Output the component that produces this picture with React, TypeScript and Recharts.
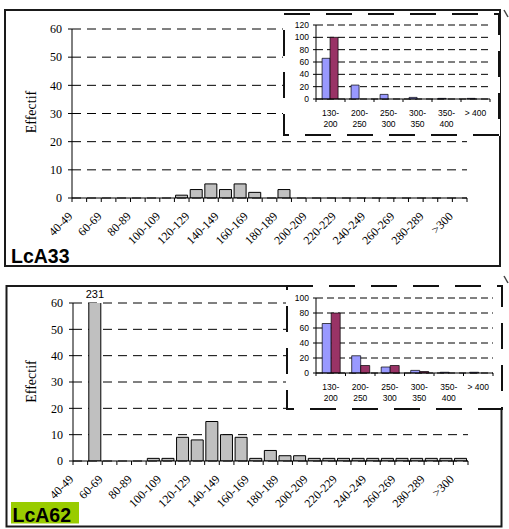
import React from 'react';
import { BarChart, Bar, XAxis, YAxis, CartesianGrid, ReferenceDot } from 'recharts';

const sizeClasses = [
  '40-49', '50-59', '60-69', '70-79', '80-89', '90-99', '100-109', '110-119', '120-129',
  '130-139', '140-149', '150-159', '160-169', '170-179', '180-189', '190-199', '200-209',
  '210-219', '220-229', '230-239', '240-249', '250-259', '260-269', '270-279', '280-289',
  '290-299', '>300',
];
const lca33Counts = [0, 0, 0, 0, 0, 0, 0, 1, 3, 5, 3, 5, 2, 0, 3, 0, 0, 0, 0, 0, 0, 0, 0, 0, 0, 0, 0];
const lca62Counts = [0, 231, 0, 0, 0, 1, 1, 9, 8, 15, 10, 9, 1, 4, 2, 2, 1, 1, 1, 1, 1, 1, 1, 1, 1, 1, 1];
const mainTicks = [0, 10, 20, 30, 40, 50, 60];

const insetClasses = ['130-200', '200-250', '250-300', '300-350', '350-400', '> 400'];
const lca33InsetA = [66, 22.6, 7.5, 2.6, 1, 1];
const lca33InsetB = [100, 0, 0, 0, 0, 0];
const lca62InsetA = [66, 23, 8, 3.5, 1, 1];
const lca62InsetB = [80, 10, 10, 2, 0, 0];
const inset33Ticks = [0, 20, 40, 60, 80, 100, 120];
const inset62Ticks = [0, 20, 40, 60, 80, 100];

const SERIF = '"Liberation Serif", "Times New Roman", serif';
const SANS = '"Liberation Sans", Arial, sans-serif';

function MainTick(props: any) {
  const { x, y, payload, index, bw, count } = props;
  const ax = x - 6;
  const ay = y + 19;
  const left = x - bw / 2;
  return (
    <g>
      <line x1={left} y1={y} x2={left} y2={y + 4} stroke="#000" strokeWidth={1} />
      {index === count - 1 && (
        <line x1={x + bw / 2} y1={y} x2={x + bw / 2} y2={y + 4} stroke="#000" strokeWidth={1} />
      )}
      {index % 2 === 0 && (
        <text
          x={ax}
          y={ay}
          transform={`rotate(-45 ${ax} ${ay})`}
          textAnchor="end"
          fontFamily={SERIF}
          fontSize={12}
          fill="#000"
        >
          {payload.value}
        </text>
      )}
    </g>
  );
}

function InsetTick(props: any) {
  const { x, y, payload, index, bw, count } = props;
  const v = String(payload.value);
  const dash = v.indexOf('-');
  const lines = dash >= 0 ? [v.slice(0, dash + 1), v.slice(dash + 1)] : [v];
  return (
    <g>
      <line x1={x - bw / 2} y1={y} x2={x - bw / 2} y2={y + 3} stroke="#000" strokeWidth={1} />
      {index === count - 1 && (
        <line x1={x + bw / 2} y1={y} x2={x + bw / 2} y2={y + 3} stroke="#000" strokeWidth={1} />
      )}
      <text x={x} y={y + 17} textAnchor="middle" fontFamily={SANS} fontSize={8.5} fill="#000">
        {lines.map((l, i) => (
          <tspan key={i} x={x} dy={i === 0 ? 0 : 10.5}>
            {l}
          </tspan>
        ))}
      </text>
    </g>
  );
}

function MainHistogram(props: {
  counts: number[];
  top: number;
  height: number;
  marginTop: number;
  marginRight: number;
  yAxisWidth: number;
}) {
  const { counts, top, height, marginTop, marginRight, yAxisWidth } = props;
  const data = sizeClasses.map((c, i) => ({ cls: c, n: counts[i] }));
  const W = 509;
  const plotW = W - yAxisWidth - marginRight;
  const bw = plotW / sizeClasses.length;
  const yMax = mainTicks[mainTicks.length - 1];
  const overflow = data.filter((d) => d.n > yMax);
  return (
    <div style={{ position: 'absolute', left: 0, top, width: W, height }}>
      <BarChart
        width={W}
        height={height}
        data={data}
        margin={{ top: marginTop, right: marginRight, bottom: 0, left: 0 }}
        barCategoryGap="8%"
      >
        <CartesianGrid vertical={false} stroke="#000" strokeDasharray="9 6" />
        <XAxis
          dataKey="cls"
          interval={0}
          height={68}
          tickSize={0}
          tickMargin={0}
          tickLine={false}
          axisLine={{ stroke: '#000' }}
          tick={(p: any) => <MainTick {...p} bw={bw} count={sizeClasses.length} />}
        />
        <YAxis
          type="number"
          domain={[0, yMax]}
          ticks={mainTicks}
          interval={0}
          allowDataOverflow
          width={yAxisWidth}
          tickSize={4}
          tickMargin={6}
          axisLine={{ stroke: '#000' }}
          tickLine={{ stroke: '#000' }}
          tick={{ fill: '#000', fontFamily: SERIF, fontSize: 12 }}
        />
        <Bar dataKey="n" fill="#C0C0C0" stroke="#000" strokeWidth={1} isAnimationActive={false} />
        {overflow.map((d) => (
          <ReferenceDot
            key={d.cls}
            x={d.cls}
            y={yMax}
            r={0}
            fill="none"
            stroke="none"
            label={{ value: d.n, position: 'top', offset: 5, fill: '#000', fontFamily: SANS, fontSize: 11 }}
          />
        ))}
      </BarChart>
    </div>
  );
}

function Inset(props: {
  a: number[];
  b: number[];
  ticks: number[];
  left: number;
  top: number;
  width: number;
  height: number;
  marginTop: number;
  marginRight: number;
  yAxisWidth: number;
  xAxisHeight: number;
}) {
  const { a, b, ticks, left, top, width, height, marginTop, marginRight, yAxisWidth, xAxisHeight } = props;
  const data = insetClasses.map((c, i) => ({ cls: c, a: a[i], b: b[i] }));
  const plotW = width - yAxisWidth - marginRight;
  const bw = plotW / insetClasses.length;
  const yMax = ticks[ticks.length - 1];
  return (
    <div style={{ position: 'absolute', left, top, width, height, background: '#fff' }}>
      <BarChart
        width={width}
        height={height}
        data={data}
        margin={{ top: marginTop, right: marginRight, bottom: 0, left: 0 }}
        barCategoryGap="21%"
        barGap={0}
      >
        <CartesianGrid vertical={false} stroke="#000" strokeDasharray="7 4" />
        <XAxis
          dataKey="cls"
          interval={0}
          height={xAxisHeight}
          tickSize={0}
          tickMargin={0}
          tickLine={false}
          axisLine={{ stroke: '#000' }}
          tick={(p: any) => <InsetTick {...p} bw={bw} count={insetClasses.length} />}
        />
        <XAxis
          xAxisId="top"
          orientation="top"
          dataKey="cls"
          height={0}
          tick={false}
          tickLine={false}
          axisLine={{ stroke: '#808080' }}
        />
        <YAxis
          type="number"
          domain={[0, yMax]}
          ticks={ticks}
          interval={0}
          width={yAxisWidth}
          tickSize={3}
          tickMargin={4}
          axisLine={{ stroke: '#000' }}
          tickLine={{ stroke: '#000' }}
          tick={{ fill: '#000', fontFamily: SANS, fontSize: 8.5 }}
        />
        <YAxis
          yAxisId="right"
          orientation="right"
          width={0}
          tick={false}
          tickLine={false}
          axisLine={{ stroke: '#808080' }}
        />
        <Bar dataKey="a" fill="#9999FF" stroke="#000" strokeWidth={0.7} isAnimationActive={false} />
        <Bar dataKey="b" fill="#993366" stroke="#000" strokeWidth={0.7} isAnimationActive={false} />
      </BarChart>
      <svg
        width={width}
        height={height}
        style={{ position: 'absolute', left: 0, top: 0, pointerEvents: 'none' }}
      >
        <rect
          x={1}
          y={1}
          width={width - 2}
          height={height - 2}
          fill="none"
          stroke="#111"
          strokeWidth={2}
          strokeDasharray="26 16"
        />
      </svg>
    </div>
  );
}

export default function App() {
  return (
    <div
      style={{
        position: 'absolute',
        left: 0,
        top: 0,
        width: 509,
        height: 529,
        background: '#fff',
        overflow: 'hidden',
      }}
    >
      <svg width={509} height={529} style={{ position: 'absolute', left: 0, top: 0 }}>
        <rect x={5} y={10} width={495} height={256} fill="none" stroke="#1a1a1a" strokeWidth={2} />
        <rect x={6.5} y={286} width={495} height={240.5} fill="none" stroke="#1a1a1a" strokeWidth={2} />
        <line x1={504} y1={10} x2={508} y2={17} stroke="#444" strokeWidth={1.5} />
        <line x1={504} y1={276} x2={508} y2={283} stroke="#444" strokeWidth={1.5} />
        <text
          x={35.5}
          y={112}
          transform="rotate(-90 35.5 112)"
          textAnchor="middle"
          fontFamily={SERIF}
          fontSize={14}
          fill="#000"
        >
          Effectif
        </text>
        <text
          x={36}
          y={381.5}
          transform="rotate(-90 36 381.5)"
          textAnchor="middle"
          fontFamily={SERIF}
          fontSize={14}
          fill="#000"
        >
          Effectif
        </text>
        <text x={11} y={263} fontFamily={SANS} fontWeight="bold" fontSize={19.5} fill="#000">
          LcA33
        </text>
        <rect x={11} y={502} width={68} height={21.5} fill="#99CC00" />
        <text x={12.5} y={521.5} fontFamily={SANS} fontWeight="bold" fontSize={19.5} fill="#000">
          LcA62
        </text>
      </svg>

      <MainHistogram counts={lca33Counts} top={0} height={266} marginTop={29} marginRight={42} yAxisWidth={72} />
      <MainHistogram counts={lca62Counts} top={270} height={259} marginTop={33} marginRight={41} yAxisWidth={73} />

      <Inset
        a={lca33InsetA}
        b={lca33InsetB}
        ticks={inset33Ticks}
        left={283}
        top={13}
        width={217}
        height={123}
        marginTop={12}
        marginRight={10}
        yAxisWidth={33}
        xAxisHeight={37}
      />
      <Inset
        a={lca62InsetA}
        b={lca62InsetB}
        ticks={inset62Ticks}
        left={286}
        top={285}
        width={217}
        height={125}
        marginTop={13}
        marginRight={10}
        yAxisWidth={30}
        xAxisHeight={37}
      />
    </div>
  );
}
